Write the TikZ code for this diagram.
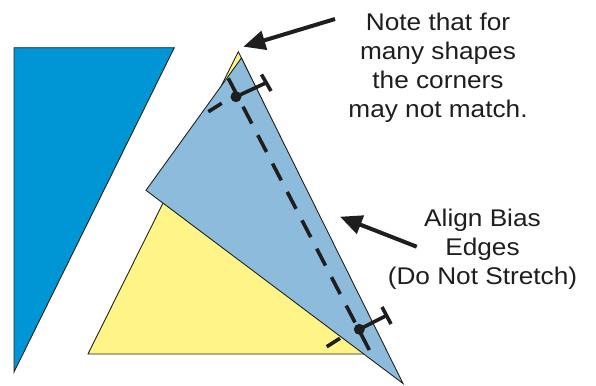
\documentclass[tikz,border=0pt]{standalone}
\usepackage{fontspec}
\setmainfont{Liberation Sans}[FakeStretch=1.087]
\usetikzlibrary{arrows.meta}
\definecolor{dblue}{RGB}{0,150,214}
\definecolor{lblue}{RGB}{141,187,219}
\definecolor{pyellow}{RGB}{255,244,136}
\definecolor{edgecol}{RGB}{35,35,30}
\definecolor{inkcol}{RGB}{30,30,30}
\begin{document}
\begin{tikzpicture}[x=1bp,y=-1bp,
  piece/.style={draw=edgecol,line width=0.9bp,line join=miter},
  seam/.style={line width=3.6bp,draw=inkcol,dash pattern=on 19bp off 13bp},
  tmark/.style={line width=3.6bp,draw=inkcol},
  callout/.style={line width=4bp,draw=inkcol,fill=inkcol,-{Triangle[length=22bp,width=19bp]}},
  notetext/.style={align=center,font=\fontsize{24.2}{29}\selectfont,inner sep=0pt,anchor=base,text=inkcol}
]
\path[use as bounding box, fill=white] (0,0) rectangle (596,385);

% pieces
\draw[piece,fill=dblue] (14,47.7) -- (174.3,47.7) -- (14,372) -- cycle;
\draw[piece,fill=pyellow] (88,354) -- (238.3,51.7) -- (387,354) -- cycle;
\draw[piece,fill=lblue] (241.4,58) -- (146,190.3) -- (403,383.5) -- cycle;

% seam line
\coordinate (s1) at (228.3,78.3);
\coordinate (s2) at (369.3,350);
\draw[seam] (s1) -- (s2);

% top marker
\coordinate (d1) at (236,96.7);
\coordinate (e1) at (266.3,82.7);
\coordinate (b1a) at (261.5,74.5);
\coordinate (b1b) at (271,91);
\coordinate (p1a) at (208.3,111.7);
\coordinate (p1b) at (221.7,103.3);
\draw[tmark] (d1) -- (e1);
\draw[tmark] (b1a) -- (b1b);
\draw[tmark] (p1a) -- (p1b);
\fill[inkcol] (d1) circle (5.5bp);

% bottom marker
\coordinate (d2) at (359.3,329.3);
\coordinate (e2) at (386.5,315.5);
\coordinate (b2a) at (382,307);
\coordinate (b2b) at (391,324);
\coordinate (p2a) at (326.7,346.7);
\coordinate (p2b) at (340,338.3);
\draw[tmark] (d2) -- (e2);
\draw[tmark] (b2a) -- (b2b);
\draw[tmark] (p2a) -- (p2b);
\fill[inkcol] (d2) circle (5.5bp);

% texts (base anchor = baseline of last line)
\node[notetext] (note) at (438,117) {Note that for\\many shapes\\the corners\\may not match.};
\node[notetext] (alignnote) at (482.5,284) {Align Bias\\Edges\\(Do Not Stretch)};

% callouts
\coordinate (a1tail) at (335,19);
\coordinate (a1tip) at (243.3,46.7);
\coordinate (a2tail) at (416.7,246.7);
\coordinate (a2tip) at (340,216.7);
\draw[callout] (a1tail) -- (a1tip);
\draw[callout] (a2tail) -- (a2tip);
\end{tikzpicture}
\end{document}
